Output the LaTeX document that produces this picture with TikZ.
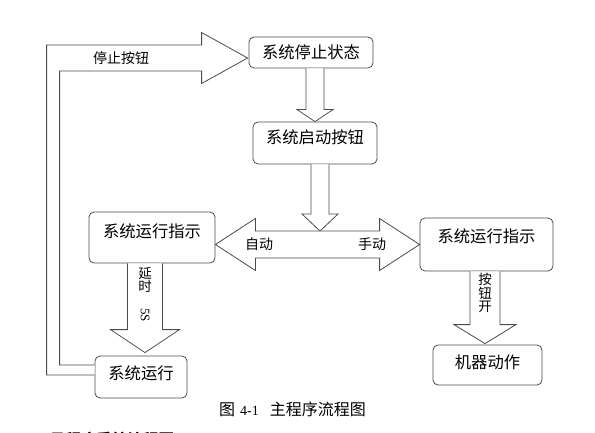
\documentclass[tikz,border=0pt]{standalone}
\usepackage{fontspec}
\setmainfont{Liberation Serif}
\newfontfamily\cjk{Noto Sans CJK SC}
\usetikzlibrary{calc}

\tikzset{
    box/.style={
        draw=black!70, line width=0.8pt, rounded corners=5pt,
        fill=white, inner sep=0pt, text height=14pt,
        font=\cjk\fontsize{16.3}{19}\selectfont
    },
    block/.style={draw=black!70, line width=0.8pt, fill=white},
    lbl/.style={inner sep=0pt, font=\cjk\fontsize{14}{16}\selectfont},
    vlbl/.style={inner sep=0pt, align=center,
        font=\cjk\fontsize{13.5}{13.5}\selectfont},
}

\begin{document}
\begin{tikzpicture}[x=1pt,y=-1pt]
    \useasboundingbox (0,0) rectangle (595,433);

    % States
    \node[box, minimum width=124pt, minimum height=31pt, text depth=2pt]
        (stop)  at (311,52.5)  {系统停止状态};
    \node[box, minimum width=124pt, minimum height=42pt, text depth=12pt]
        (start) at (315,143)   {系统启动按钮};
    \node[box, minimum width=126pt, minimum height=51pt, text depth=13pt]
        (indL)  at (152,237.5) {系统运行指示};
    \node[box, minimum width=133pt, minimum height=53pt, text depth=17pt]
        (indR)  at (486.5,244.5) {系统运行指示};
    \node[box, minimum width=92pt,  minimum height=42pt, text depth=10pt]
        (run)   at (141,377)   {系统运行};
    \node[box, minimum width=109pt, minimum height=40pt, text depth=8pt]
        (act)   at (487.5,365) {机器动作};

    % branching point and arrow tips
    \coordinate (fork) at (316,244.5);
    \coordinate (tA) at (start.north);
    \coordinate (tB) at ($(fork)+(4,-13.5)$);
    \coordinate (tC) at ($(run.north)+(4,-3)$);
    \coordinate (tD) at ($(act.north)+(-2.5,-1)$);
    \coordinate (tE) at ($(stop.west)+(-1,5.5)$);
    \coordinate (tL) at (fork -| indL.east);
    \coordinate (tR) at (fork -| indR.west);

    % Block arrows
    \draw[block] ($(tA |- stop.south)+(-9,0)$) -- ($(tA)+(-9,-12)$)
        -- ($(tA)+(-18,-12)$) -- (tA) -- ($(tA)+(18,-12)$)
        -- ($(tA)+(9,-12)$) -- ($(tA |- stop.south)+(9,0)$);
    \draw[block] ($(tB |- start.south)+(-9,0)$) -- ($(tB)+(-9,-17)$)
        -- ($(tB)+(-18,-17)$) -- (tB) -- ($(tB)+(18,-17)$)
        -- ($(tB)+(9,-17)$) -- ($(tB |- start.south)+(9,0)$);
    \draw[block] (tL) -- ($(tL)+(40,-26)$) -- ($(tL)+(40,-13.5)$)
        -- ($(tR)+(-40,-13.5)$) -- ($(tR)+(-40,-26)$) -- (tR)
        -- ($(tR)+(-40,26)$) -- ($(tR)+(-40,13.5)$)
        -- ($(tL)+(40,13.5)$) -- ($(tL)+(40,26)$) -- cycle;
    \draw[block] ($(tC |- indL.south)+(-17.5,0)$) -- ($(tC)+(-17.5,-23)$)
        -- ($(tC)+(-34.5,-23)$) -- (tC) -- ($(tC)+(34.5,-23)$)
        -- ($(tC)+(17.5,-23)$) -- ($(tC |- indL.south)+(17.5,0)$);
    \draw[block] ($(tD |- indR.south)+(-15,0)$) -- ($(tD)+(-15,-19)$)
        -- ($(tD)+(-31,-19)$) -- (tD) -- ($(tD)+(31,-19)$)
        -- ($(tD)+(15,-19)$) -- ($(tD |- indR.south)+(15,0)$);
    \draw[block] ($(run.west)+(0,-2)$) -| ($(tE)+(-201,-13)$)
        -- ($(tE)+(-46,-13)$) -- ($(tE)+(-46,-25.5)$) -- (tE)
        -- ($(tE)+(-46,25.5)$) -- ($(tE)+(-46,13)$)
        -| ($(run.west)+(-35,-12)$) -- ($(run.west)+(0,-12)$);

    % Labels
    \node[lbl] (lstop) at (121,58)    {停止按钮};
    \node[lbl] (lauto) at (259,244.5) {自动};
    \node[lbl] (lman)  at (372,244.5) {手动};
    \node[vlbl, anchor=north] (ldelay) at (145,267)
        {延\\时\\[3pt]\rotatebox{-90}{\rmfamily\fontsize{13}{13}\selectfont 5S}};
    \node[vlbl, anchor=north] (lbtn) at (485,273) {按\\钮\\开};

    % Caption
    \node[inner sep=0pt, font=\fontsize{14}{16}\selectfont] (cap) at (292.5,409)
        {{\cjk\fontsize{16}{18}\selectfont 图}\hspace{5pt}4-1\hspace{11pt}%
         {\cjk\fontsize{16}{18}\selectfont 主程序流程图}};
    \node[inner sep=0pt, font=\cjk\bfseries\fontsize{15.5}{18}\selectfont]
        (next) at (112,440) {子程序系统流程图};
\end{tikzpicture}
\end{document}
